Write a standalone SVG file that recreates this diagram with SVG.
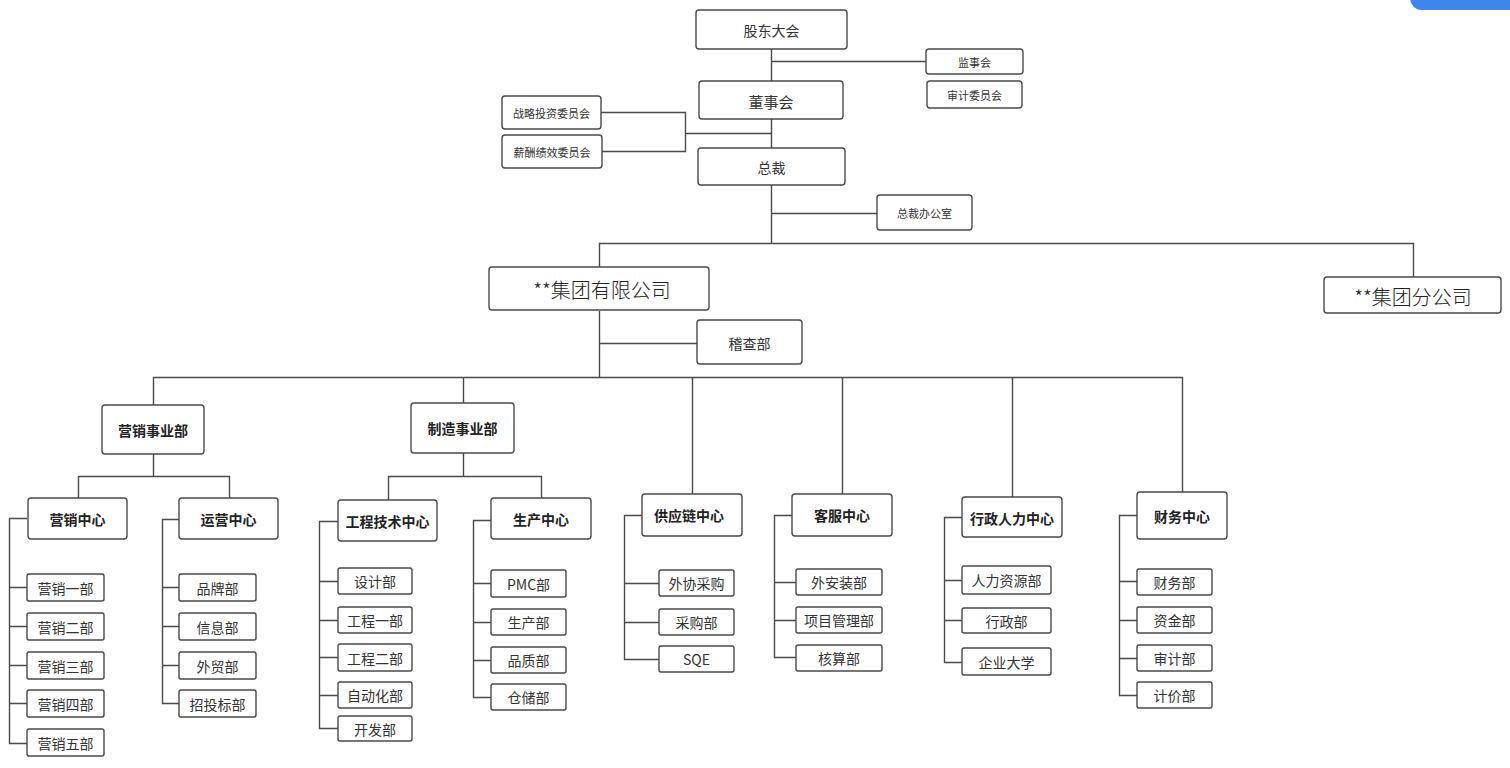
<svg xmlns="http://www.w3.org/2000/svg" width="1510" height="768" viewBox="0 0 1510 768">
<style>
.b{fill:#fff;stroke:#4a4a4a;stroke-width:1.4}
.c{fill:none;stroke:#4a4a4a;stroke-width:1.4}
text{font-family:"Noto Sans CJK SC","Liberation Sans",sans-serif;fill:#333;text-anchor:middle;dominant-baseline:central}
.s{font-size:11px}
.m{font-size:14px}
.t{font-size:14px;font-weight:bold;fill:#222}
.l{font-size:20px;font-weight:300;fill:#222}
</style>
<rect width="1510" height="768" fill="#fff"/>
<rect x="1410" y="-20" width="120" height="30" rx="12" fill="#3d86ec"/>
<g id="connectors" class="c">
<path d="M771.5 49V243M771.5 61.5H926M601 112.5H685.5V151.5H602M685.5 133.5H771.5M771.5 213.5H877"/>
<path d="M599.5 267V243.5H1413.5V277"/>
<path d="M599.5 311V377M599.5 343.5H697"/>
<path d="M153.5 405V377.5H1182.5V492M463.5 377.5V403M692.5 377.5V494M842.5 377.5V494M1012.5 377.5V497"/>
<path d="M153.5 454V476.5M78.5 498V476.5H229.5V498"/>
<path d="M463.5 453V476.5M388.5 500V476.5H541.5V498"/>
<path d="M27 518.5H9.5V743.5H27M9.5 587.5H27M9.5 626.5H27M9.5 665.5H27M9.5 703.5H27"/>
<path d="M179 519.5H162.5V703.5H179M162.5 587.5H179M162.5 626.5H179M162.5 665.5H179"/>
<path d="M338 521.5H319.5V728.5H338M319.5 581.5H338M319.5 620.5H338M319.5 657.5H338M319.5 695.5H338"/>
<path d="M491 520.5H473.5V697.5H491M473.5 583.5H491M473.5 622.5H491M473.5 660.5H491"/>
<path d="M642 515.5H624.5V659.5H659M624.5 583.5H659M624.5 622.5H659"/>
<path d="M792 515.5H774.5V657.5H796M774.5 582.5H796M774.5 620.5H796"/>
<path d="M962 517.5H944.5V662.5H962M944.5 580.5H962M944.5 620.5H962"/>
<path d="M1137 515.5H1119.5V695.5H1137M1119.5 581.5H1137M1119.5 620.5H1137M1119.5 658.5H1137"/>
</g>
<g id="n-gudong"><rect class="b" x="696" y="10" width="151" height="39" rx="3"/><text class="m" x="771.5" y="30">股东大会</text></g>
<g id="n-jianshi"><rect class="b" x="926" y="49" width="97" height="25" rx="3"/><text class="s" x="974.5" y="62">监事会</text></g>
<g id="n-shenji"><rect class="b" x="927" y="81" width="95" height="27" rx="3"/><text class="s" x="974.5" y="95">审计委员会</text></g>
<g id="n-dongshi"><rect class="b" x="699" y="81" width="144" height="38" rx="3"/><text class="m" x="771" y="101" style="font-size:15px">董事会</text></g>
<g id="n-zhanlue"><rect class="b" x="502" y="96" width="99" height="33" rx="3"/><text class="s" x="551.5" y="113">战略投资委员会</text></g>
<g id="n-xinchou"><rect class="b" x="502" y="135" width="100" height="33" rx="3"/><text class="s" x="552" y="152">薪酬绩效委员会</text></g>
<g id="n-zongcai"><rect class="b" x="698" y="148" width="147" height="37" rx="3"/><text class="m" x="771.5" y="167">总裁</text></g>
<g id="n-zcbgs"><rect class="b" x="877" y="195" width="95" height="35" rx="3"/><text class="s" x="924.5" y="213">总裁办公室</text></g>
<g id="n-jituan"><rect class="b" x="489" y="267" width="220" height="43" rx="3"/><text class="l" x="602" y="289">**集团有限公司</text></g>
<g id="n-fengongsi"><rect class="b" x="1324" y="277" width="177" height="36" rx="3"/><text class="l" x="1413" y="296">**集团分公司</text></g>
<g id="n-jicha"><rect class="b" x="697" y="320" width="105" height="44" rx="3"/><text class="m" x="749.5" y="343">稽查部</text></g>
<g id="n-yxsyb"><rect class="b" x="102" y="405" width="102" height="49" rx="3"/><text class="t" x="153" y="430">营销事业部</text></g>
<g id="n-zzsyb"><rect class="b" x="411" y="403" width="103" height="50" rx="3"/><text class="t" x="462.5" y="428">制造事业部</text></g>
<g id="n-yxzx"><rect class="b" x="28" y="498" width="99" height="41" rx="3"/><text class="t" x="77.5" y="519">营销中心</text></g>
<g id="n-yyzx"><rect class="b" x="179" y="498" width="99" height="41" rx="3"/><text class="t" x="228.5" y="519">运营中心</text></g>
<g id="n-gcjs"><rect class="b" x="338" y="500" width="99" height="41" rx="3"/><text class="t" x="387.5" y="521">工程技术中心</text></g>
<g id="n-sczx"><rect class="b" x="491" y="498" width="100" height="41" rx="3"/><text class="t" x="541" y="519">生产中心</text></g>
<g id="n-gyl"><rect class="b" x="642" y="494" width="100" height="42" rx="3"/><text class="t" x="689" y="515">供应链中心</text></g>
<g id="n-kf"><rect class="b" x="792" y="494" width="100" height="42" rx="3"/><text class="t" x="842" y="515">客服中心</text></g>
<g id="n-xzrl"><rect class="b" x="962" y="497" width="100" height="40" rx="3"/><text class="t" x="1012" y="518">行政人力中心</text></g>
<g id="n-cwzx"><rect class="b" x="1137" y="492" width="90" height="47" rx="3"/><text class="t" x="1182" y="516">财务中心</text></g>
<g id="n-yx1"><rect class="b" x="27" y="574" width="77" height="27" rx="2"/><text class="m" x="65.5" y="588">营销一部</text></g>
<g id="n-yx2"><rect class="b" x="27" y="613" width="77" height="27" rx="2"/><text class="m" x="65.5" y="627">营销二部</text></g>
<g id="n-yx3"><rect class="b" x="27" y="652" width="77" height="27" rx="2"/><text class="m" x="65.5" y="666">营销三部</text></g>
<g id="n-yx4"><rect class="b" x="27" y="690" width="77" height="27" rx="2"/><text class="m" x="65.5" y="704">营销四部</text></g>
<g id="n-yx5"><rect class="b" x="27" y="729" width="77" height="27" rx="2"/><text class="m" x="65.5" y="743">营销五部</text></g>
<g id="n-pp"><rect class="b" x="179" y="574" width="77" height="27" rx="2"/><text class="m" x="217.5" y="588">品牌部</text></g>
<g id="n-xx"><rect class="b" x="179" y="613" width="77" height="27" rx="2"/><text class="m" x="217.5" y="627">信息部</text></g>
<g id="n-wm"><rect class="b" x="179" y="652" width="77" height="27" rx="2"/><text class="m" x="217.5" y="666">外贸部</text></g>
<g id="n-ztb"><rect class="b" x="179" y="690" width="77" height="27" rx="2"/><text class="m" x="217.5" y="704">招投标部</text></g>
<g id="n-sj"><rect class="b" x="338" y="568" width="74" height="26" rx="2"/><text class="m" x="375" y="581">设计部</text></g>
<g id="n-gc1"><rect class="b" x="338" y="607" width="74" height="26" rx="2"/><text class="m" x="375" y="620">工程一部</text></g>
<g id="n-gc2"><rect class="b" x="338" y="644" width="74" height="27" rx="2"/><text class="m" x="375" y="658">工程二部</text></g>
<g id="n-zdh"><rect class="b" x="338" y="682" width="74" height="26" rx="2"/><text class="m" x="375" y="695">自动化部</text></g>
<g id="n-kfb"><rect class="b" x="338" y="716" width="74" height="25" rx="2"/><text class="m" x="375" y="729">开发部</text></g>
<g id="n-pmc"><rect class="b" x="491" y="570" width="75" height="27" rx="2"/><text class="m" x="528.5" y="584">PMC部</text></g>
<g id="n-scb"><rect class="b" x="491" y="609" width="75" height="26" rx="2"/><text class="m" x="528.5" y="622">生产部</text></g>
<g id="n-pz"><rect class="b" x="491" y="647" width="75" height="26" rx="2"/><text class="m" x="528.5" y="660">品质部</text></g>
<g id="n-cc"><rect class="b" x="491" y="684" width="75" height="26" rx="2"/><text class="m" x="528.5" y="697">仓储部</text></g>
<g id="n-wxcg"><rect class="b" x="659" y="570" width="75" height="26" rx="2"/><text class="m" x="696.5" y="583">外协采购</text></g>
<g id="n-cgb"><rect class="b" x="659" y="609" width="75" height="26" rx="2"/><text class="m" x="696.5" y="622">采购部</text></g>
<g id="n-sqe"><rect class="b" x="659" y="646" width="75" height="26" rx="2"/><text class="m" x="696.5" y="659">SQE</text></g>
<g id="n-waz"><rect class="b" x="796" y="569" width="86" height="26" rx="2"/><text class="m" x="839" y="582">外安装部</text></g>
<g id="n-xmgl"><rect class="b" x="796" y="607" width="86" height="26" rx="2"/><text class="m" x="839" y="620">项目管理部</text></g>
<g id="n-hs"><rect class="b" x="796" y="645" width="86" height="26" rx="2"/><text class="m" x="839" y="658">核算部</text></g>
<g id="n-rlzy"><rect class="b" x="962" y="566" width="89" height="28" rx="2"/><text class="m" x="1006.5" y="580">人力资源部</text></g>
<g id="n-xzb"><rect class="b" x="962" y="608" width="89" height="25" rx="2"/><text class="m" x="1006.5" y="621">行政部</text></g>
<g id="n-qydx"><rect class="b" x="962" y="648" width="89" height="27" rx="2"/><text class="m" x="1006.5" y="662">企业大学</text></g>
<g id="n-cwb"><rect class="b" x="1137" y="569" width="75" height="26" rx="2"/><text class="m" x="1174.5" y="582">财务部</text></g>
<g id="n-zjb"><rect class="b" x="1137" y="607" width="75" height="26" rx="2"/><text class="m" x="1174.5" y="620">资金部</text></g>
<g id="n-sjb"><rect class="b" x="1137" y="645" width="75" height="26" rx="2"/><text class="m" x="1174.5" y="658">审计部</text></g>
<g id="n-jjb"><rect class="b" x="1137" y="682" width="75" height="26" rx="2"/><text class="m" x="1174.5" y="695">计价部</text></g>
</svg>
